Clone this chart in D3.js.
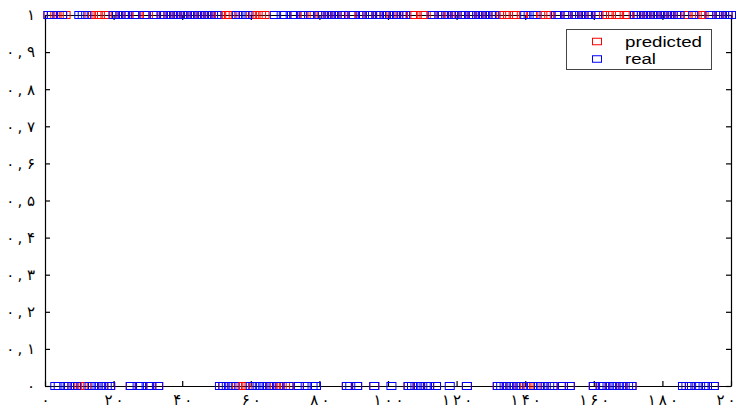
<!DOCTYPE html>
<html lang="fa">
<head>
    <meta charset="UTF-8">
    <title>predicted vs real</title>
    <script src="https://d3js.org/d3.v7.min.js"></script>
    <style>
        body {
            margin: 0;
            background-color: #ffffff;
            overflow: hidden;
        }
        svg {
            display: block;
        }
        .axis text {
            font-family: "DejaVu Sans", sans-serif;
            font-size: 15px;
            fill: #000;
        }
        .axis path, .axis line {
            stroke: #000;
            stroke-width: 1.2;
        }
        .legend text {
            font-family: "Liberation Sans", Arial, sans-serif;
            font-size: 14px;
            fill: #000;
        }
    </style>
</head>
<body>
    <div id="chart"></div>
    <script>
        // sample values, index 1..200
        const real = [
            1,1,0,0,1,0,0,0,0,1,1,1,0,0,0,0,0,0,0,1,
            1,1,1,1,0,1,0,0,1,0,0,1,0,1,1,1,1,1,1,1,
            1,1,1,1,1,1,1,1,1,1,0,0,0,0,0,1,1,1,1,0,
            0,0,0,0,0,0,1,0,1,1,0,1,1,0,1,0,1,0,0,1,
            1,1,1,1,1,1,1,0,0,1,0,1,1,1,1,0,1,1,1,1,
            0,1,1,1,1,0,0,0,0,0,0,0,1,0,1,1,1,0,1,1,
            1,1,0,1,1,1,1,1,1,1,1,0,0,0,0,0,0,0,0,1,
            1,0,1,0,0,0,0,0,1,1,0,1,0,1,1,1,1,1,1,0,
            1,0,0,0,0,0,0,0,0,0,0,1,1,1,1,1,1,1,1,1,
            1,1,1,1,1,0,0,0,1,0,0,0,0,1,0,1,1,1,1,1
        ];
        const predicted = [
            1,1,1,1,1,1,0,0,0,0,0,0,1,1,1,1,0,1,0,1,
            1,1,1,1,0,1,1,0,1,1,0,1,0,1,1,1,1,1,1,1,
            1,1,1,1,1,1,1,1,1,1,1,0,1,1,1,0,0,0,0,1,
            1,1,1,1,0,0,0,0,0,0,0,1,1,0,1,1,1,1,0,1,
            1,1,1,1,1,1,1,0,1,1,0,1,1,1,1,0,1,1,1,1,
            1,1,1,1,1,0,1,1,0,1,1,0,1,0,1,1,1,1,1,1,
            1,1,0,1,1,1,1,1,1,1,1,0,1,1,1,0,1,0,1,0,
            0,1,0,0,1,1,1,0,1,1,0,1,0,1,1,1,1,1,1,0,
            1,0,1,1,1,0,1,0,1,1,0,1,1,1,1,1,1,1,1,1,
            1,1,1,1,1,0,1,0,1,1,1,1,0,1,0,1,1,1,1,1
        ];
        const xTicks = [0, 20, 40, 60, 80, 100, 120, 140, 160, 180, 200];
        const yTicks = [0, 0.1, 0.2, 0.3, 0.4, 0.5, 0.6, 0.7, 0.8, 0.9, 1];
        const seriesNames = ["predicted", "real"];
        const seriesColors = ["#ff0000", "#0000ff"];

        const width = 738, height = 408;
        const margin = {left: 45, right: 731, top: 15, bottom: 386};

        const svg = d3.select("#chart").append("svg")
            .attr("width", width)
            .attr("height", height);

        const x = d3.scaleLinear().domain([0, 200]).range([margin.left, margin.right]);
        const y = d3.scaleLinear().domain([0, 1]).range([margin.bottom, margin.top]);

        // persian digits, spaced out like the original figure
        const faDigits = "۰۱۲۳۴۵۶۷۸۹";
        function faX(d) {
            return String(d).split("").map(c => faDigits[+c]).join("\u2009");
        }
        function faY(d) {
            if (d === 0 || d === 1) return faDigits[d];
            const s = d3.format(".1f")(d);
            return faDigits[+s[0]] + "\u2009, " + faDigits[+s[2]];
        }

        svg.append("g")
            .attr("class", "axis")
            .attr("transform", `translate(0,${margin.bottom})`)
            .call(d3.axisBottom(x).tickValues(xTicks).tickSizeInner(-5).tickSizeOuter(0)
                .tickPadding(8).tickFormat(faX));

        svg.append("g")
            .attr("class", "axis")
            .attr("transform", `translate(0,${margin.top})`)
            .call(d3.axisTop(x).tickValues(xTicks).tickSizeInner(-5).tickSizeOuter(0)
                .tickFormat(""));

        svg.append("g")
            .attr("class", "axis")
            .attr("transform", `translate(${margin.left},0)`)
            .call(d3.axisLeft(y).tickValues(yTicks).tickSizeInner(-5).tickSizeOuter(0)
                .tickPadding(10).tickFormat(faY));

        svg.append("g")
            .attr("class", "axis")
            .attr("transform", `translate(${margin.right},0)`)
            .call(d3.axisRight(y).tickValues(yTicks).tickSizeInner(-5).tickSizeOuter(0)
                .tickFormat(""));

        const mw = 9, mh = 7;
        [predicted, real].forEach((values, k) => {
            svg.append("g")
                .selectAll("rect")
                .data(values)
                .enter().append("rect")
                .attr("x", (d, i) => x(i + 1) - mw / 2)
                .attr("y", d => y(d) - mh / 2)
                .attr("width", mw)
                .attr("height", mh)
                .attr("fill", "none")
                .attr("stroke", seriesColors[k])
                .attr("stroke-width", 1);
        });

        // legend
        const legend = svg.append("g").attr("class", "legend");
        legend.append("rect")
            .attr("x", 566.5).attr("y", 29.5)
            .attr("width", 145).attr("height", 40)
            .attr("fill", "#fff")
            .attr("stroke", "#444")
            .attr("stroke-width", 1);
        const textLen = [77, 31];
        seriesNames.forEach((name, k) => {
            const cy = 41.5 + k * 17.5;
            legend.append("rect")
                .attr("x", 597 - 4.5).attr("y", cy - 3.25)
                .attr("width", 9).attr("height", 6.5)
                .attr("fill", "none")
                .attr("stroke", seriesColors[k]);
            legend.append("text")
                .attr("x", 625).attr("y", cy + 5)
                .attr("textLength", textLen[k])
                .attr("lengthAdjust", "spacingAndGlyphs")
                .text(name);
        });
    </script>
</body>
</html>
